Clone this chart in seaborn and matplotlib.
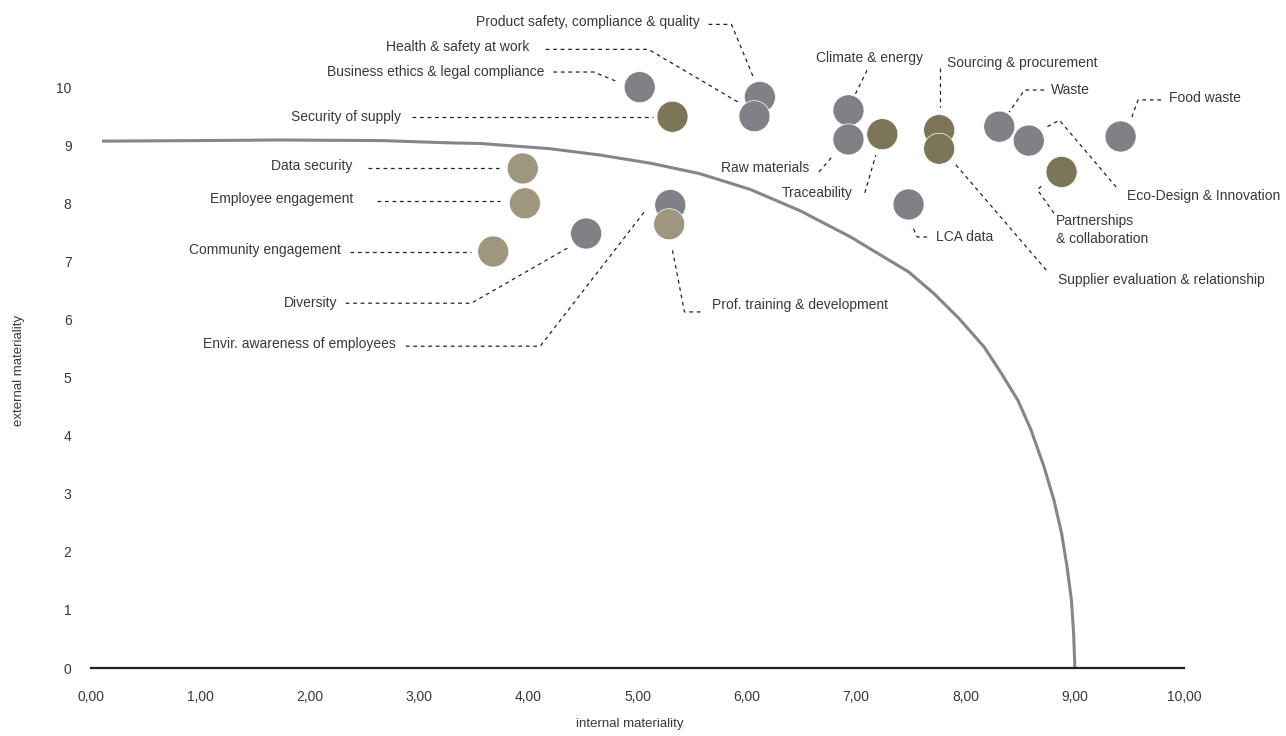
import pandas as pd
import matplotlib.pyplot as plt
import seaborn as sns

# materiality topics
topics = [
    'Business ethics & legal compliance', 'Product safety, compliance & quality',
    'Health & safety at work', 'Security of supply', 'Data security',
    'Employee engagement', 'Community engagement', 'Diversity',
    'Envir. awareness of employees', 'Prof. training & development',
    'Climate & energy', 'Raw materials', 'Traceability', 'Sourcing & procurement',
    'Supplier evaluation & relationship', 'Waste', 'Eco-Design & Innovation',
    'Food waste', 'Partnerships\n& collaboration', 'LCA data',
]
internal = [5.02, 6.12, 6.07, 5.32, 3.95, 3.97, 3.68, 4.53, 5.30, 5.29,
            6.93, 6.93, 7.24, 7.76, 7.76, 8.31, 8.58, 9.42, 8.88, 7.48]
external = [10.00, 9.83, 9.50, 9.49, 8.60, 8.00, 7.17, 7.48, 7.97, 7.64,
            9.60, 9.10, 9.19, 9.26, 8.94, 9.32, 9.08, 9.15, 8.54, 7.98]
group = ['grey', 'grey', 'grey', 'olive', 'tan', 'tan', 'tan', 'grey', 'grey', 'tan',
         'grey', 'grey', 'olive', 'olive', 'olive', 'grey', 'grey', 'grey', 'olive', 'grey']

# threshold curve, points
curve_x = [0.10, 1.00, 1.73, 2.65, 3.29, 3.56, 4.20, 4.66, 5.12, 5.57, 6.03, 6.49,
           6.95, 7.25, 7.48, 7.71, 7.94, 8.17, 8.32, 8.48, 8.60, 8.72, 8.81, 8.88,
           8.93, 8.97, 8.99, 9.00, 9.00]
curve_y = [9.07, 9.08, 9.09, 9.08, 9.04, 9.03, 8.94, 8.83, 8.69, 8.51, 8.24, 7.87,
           7.42, 7.08, 6.82, 6.45, 6.02, 5.53, 5.10, 4.61, 4.10, 3.46, 2.89, 2.32,
           1.74, 1.17, 0.60, 0.09, 0.00]

x_ticks = [0, 1, 2, 3, 4, 5, 6, 7, 8, 9, 10]
x_ticklabels = ['0,00', '1,00', '2,00', '3,00', '4,00', '5,00', '6,00', '7,00', '8,00', '9,00', '10,00']
y_ticks = [0, 1, 2, 3, 4, 5, 6, 7, 8, 9, 10]

palette = {'grey': '#808186', 'olive': '#7c7558', 'tan': '#9e967e'}

# label placement: text x, text y, alignment, leader polyline
label_layout = {
    'Product safety, compliance & quality': (5.57, 11.12, 'right', [(5.65, 11.08), (5.86, 11.08), (6.06, 10.17)]),
    'Health & safety at work': (4.01, 10.69, 'right', [(4.16, 10.65), (5.10, 10.65), (5.94, 9.72)]),
    'Business ethics & legal compliance': (4.15, 10.26, 'right', [(4.23, 10.26), (4.60, 10.26), (4.82, 10.09)]),
    'Security of supply': (2.84, 9.48, 'right', [(2.94, 9.48), (5.14, 9.48)]),
    'Data security': (2.39, 8.64, 'right', [(2.53, 8.60), (3.73, 8.60)]),
    'Employee engagement': (2.40, 8.07, 'right', [(2.62, 8.04), (3.74, 8.04)]),
    'Community engagement': (2.29, 7.19, 'right', [(2.37, 7.16), (3.48, 7.16)]),
    'Diversity': (2.25, 6.28, 'right', [(2.33, 6.28), (3.48, 6.28), (4.36, 7.23)]),
    'Envir. awareness of employees': (2.79, 5.58, 'right', [(2.88, 5.54), (4.11, 5.54), (5.07, 7.87)]),
    'Prof. training & development': (5.68, 6.25, 'left', [(5.32, 7.19), (5.43, 6.13), (5.60, 6.13)]),
    'Climate & energy': (6.63, 10.50, 'left', [(7.10, 10.29), (6.98, 9.83)]),
    'Sourcing & procurement': (7.83, 10.41, 'left', [(7.77, 10.33), (7.77, 9.66)]),
    'Waste': (8.78, 9.95, 'left', [(8.72, 9.95), (8.54, 9.95), (8.40, 9.57)]),
    'Food waste': (9.86, 9.81, 'left', [(9.79, 9.78), (9.58, 9.78), (9.52, 9.47)]),
    'Raw materials': (6.57, 8.61, 'right', [(6.66, 8.54), (6.78, 8.80)]),
    'Traceability': (6.97, 8.18, 'right', [(7.08, 8.18), (7.18, 8.83)]),
    'LCA data': (7.73, 7.42, 'left', [(7.65, 7.42), (7.56, 7.42), (7.51, 7.62)]),
    'Eco-Design & Innovation': (10.88, 8.12, 'right', [(9.38, 8.28), (8.86, 9.43), (8.74, 9.31)]),
    'Partnerships\n& collaboration': (8.83, 7.54, 'left', [(8.81, 7.83), (8.66, 8.23), (8.70, 8.31)]),
    'Supplier evaluation & relationship': (8.85, 6.68, 'left', [(8.74, 6.85), (7.90, 8.69)]),
}

df = pd.DataFrame({'topic': topics, 'internal': internal, 'external': external, 'group': group})

sns.set_style('white')
plt.rcParams['font.family'] = ['Liberation Sans', 'DejaVu Sans']

fig = plt.figure(figsize=(12.86, 7.36), dpi=100)
ax = fig.add_axes([91 / 1286, 1 - 668 / 736, 1093 / 1286, 668 / 736])

ax.plot(curve_x, curve_y, color='#85858a', lw=2.2, zorder=2,
        solid_capstyle='butt', solid_joinstyle='round')

sns.scatterplot(data=df, x='internal', y='external', hue='group', palette=palette,
                s=500, edgecolor='white', linewidth=0.5, legend=False, zorder=3, ax=ax)

text_color = '#383838'
for name, (tx, ty, ha, path) in label_layout.items():
    xs = [p[0] for p in path]
    ys = [p[1] for p in path]
    ax.plot(xs, ys, color='#222222', lw=0.9, ls=(0, (3, 3)), zorder=1)
    ax.text(tx, ty, name, ha=ha, va='center', fontsize=10, color=text_color,
            linespacing=1.3, clip_on=False)

ax.set_xlim(0, 10)
ax.set_ylim(0, 11.5)
ax.set_xticks(x_ticks)
ax.set_xticklabels(x_ticklabels)
ax.set_yticks(y_ticks)
ax.tick_params(axis='x', direction='out', length=6.5, width=0.8, color='#222222',
               pad=9, labelsize=10, labelcolor=text_color)
ax.tick_params(axis='y', length=0, pad=14, labelsize=10, labelcolor=text_color)

for side in ['top', 'right', 'left']:
    ax.spines[side].set_visible(False)
ax.spines['bottom'].set_color('#222222')
ax.spines['bottom'].set_linewidth(1.6)

ax.set_ylabel('external materiality', fontsize=9.5, color=text_color)
ax.yaxis.set_label_coords(-0.06, 0.446)
ax.set_xlabel('internal materiality', fontsize=9.5, color=text_color)
ax.xaxis.set_label_coords(0.493, -0.075)

fig.savefig('out.png', dpi=100)
